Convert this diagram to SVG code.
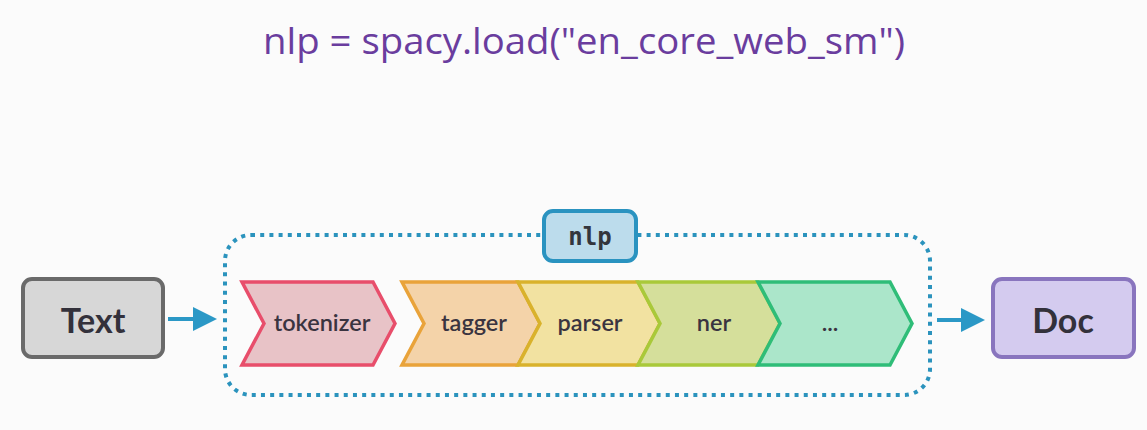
<svg xmlns="http://www.w3.org/2000/svg" width="1147" height="430" viewBox="0 0 1147 430">
<style>
.lbl{font-family:Lato,"Open Sans",sans-serif;font-size:23.5px;fill:#3a3440;text-anchor:middle;dominant-baseline:central;font-weight:600}
.big{font-family:Lato,"Open Sans",sans-serif;font-size:34px;font-weight:700;fill:#33313b;text-anchor:middle;dominant-baseline:central}
.chev{stroke-width:3.5;stroke-linejoin:miter}
.conn{stroke:#2b98c6;stroke-width:4;fill:none}
</style>
<defs>
<marker id="ah" markerWidth="6" markerHeight="6" refX="5" refY="3" orient="auto" markerUnits="strokeWidth">
<path d="M0,0 L6,3 L0,6 Z" fill="#2b98c6"/>
</marker>
</defs>
<rect width="1147" height="430" fill="#fbfbfb"/>
<text x="584" y="54" font-family="'Open Sans',sans-serif" font-size="36" fill="#6a3d9e" text-anchor="middle" textLength="642" lengthAdjust="spacingAndGlyphs">nlp = spacy.load("en_core_web_sm")</text>

<g id="pipeline-box">
<rect x="225" y="235" width="705" height="160" rx="26" fill="none" stroke="#2b93bd" stroke-width="4" stroke-dasharray="4 5.2"/>
</g>

<g id="connectors">
<line class="conn" x1="168" y1="319" x2="213" y2="319" marker-end="url(#ah)"/>
<line class="conn" x1="937" y1="320" x2="981" y2="320" marker-end="url(#ah)"/>
</g>

<g id="text-node">
<rect x="23" y="279" width="140" height="78" rx="9" fill="#d7d7d7" stroke="#6a6a6a" stroke-width="4"/>
<text class="big" x="93" y="319">Text</text>
</g>

<g id="doc-node">
<rect x="993" y="279" width="141" height="78" rx="9" fill="#d4cbef" stroke="#8975be" stroke-width="4"/>
<text class="big" x="1063" y="319">Doc</text>
</g>

<g id="tokenizer">
<path class="chev" d="M242,282 L373,282 L395,323.5 L373,365 L242,365 L264,323.5 Z" fill="#e8c3c7" stroke="#e84e6b"/>
<text class="lbl" x="322" y="322">tokenizer</text>
</g>
<g id="tagger">
<path class="chev" d="M402,282 L518,282 L540,323.5 L518,365 L402,365 L424,323.5 Z" fill="#f4d3a9" stroke="#e9a33a"/>
<text class="lbl" x="474" y="322">tagger</text>
</g>
<g id="parser">
<path class="chev" d="M518,282 L638,282 L660,323.5 L638,365 L518,365 L540,323.5 Z" fill="#f2e2a1" stroke="#d9b22c"/>
<text class="lbl" x="590" y="322">parser</text>
</g>
<g id="ner">
<path class="chev" d="M638,282 L758,282 L780,323.5 L758,365 L638,365 L660,323.5 Z" fill="#d5df9b" stroke="#a9c93a"/>
<text class="lbl" x="714" y="322">ner</text>
</g>
<g id="more">
<path class="chev" d="M758,282 L890,282 L912,323.5 L890,365 L758,365 L780,323.5 Z" fill="#abe6ca" stroke="#2fbd78"/>
<text class="lbl" x="830" y="322">...</text>
</g>

<g id="nlp-label">
<rect x="544" y="211" width="92" height="50" rx="9" fill="#bcdcec" stroke="#2a93c0" stroke-width="4"/>
<text x="590" y="237" font-family="'DejaVu Sans Mono',monospace" font-size="24" font-weight="bold" fill="#33363d" text-anchor="middle" dominant-baseline="central">nlp</text>
</g>
</svg>
